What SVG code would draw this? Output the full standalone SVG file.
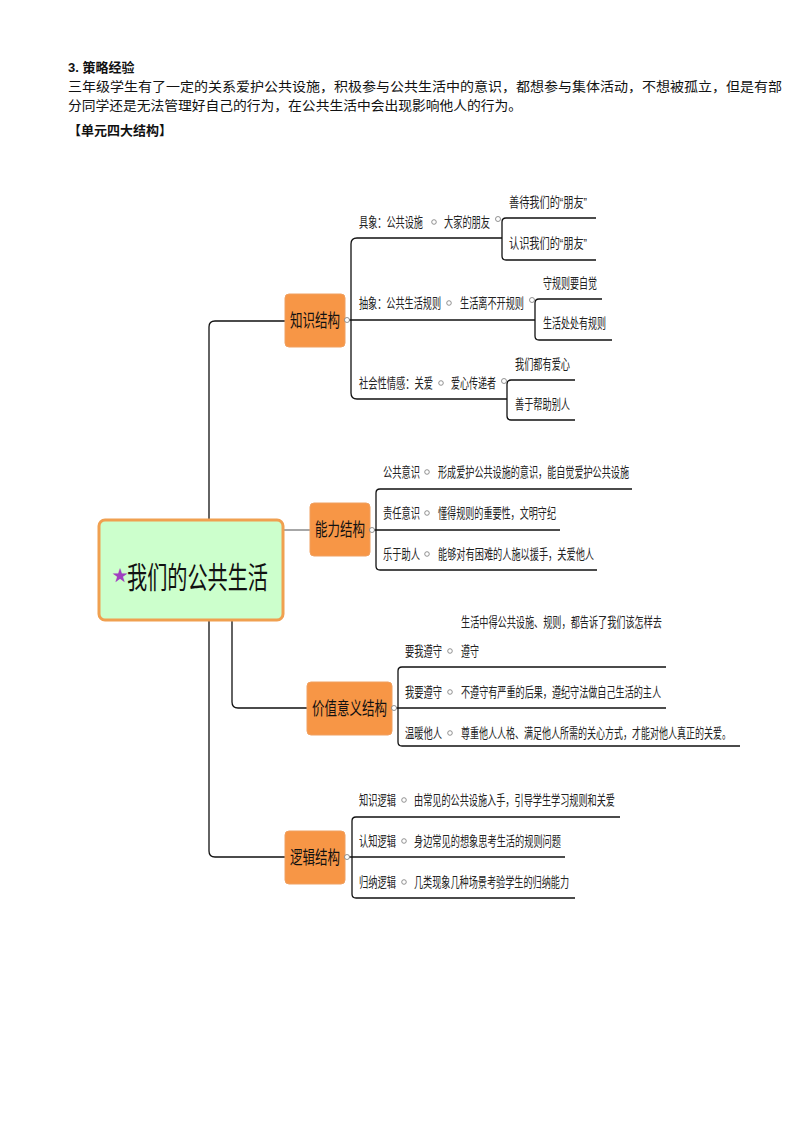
<svg xmlns="http://www.w3.org/2000/svg" width="793" height="1123" viewBox="0 0 793 1123">
<style>
text{font-family:"Liberation Sans","Noto Sans CJK SC",sans-serif;fill:#111}
.h{font-size:13px;font-weight:bold}
.p{font-size:13px}
.s{font-size:13.5px;fill:#222}
.b{font-size:18px}
.box{fill:#f79646;stroke:#f0a060;stroke-width:1}
.ln{fill:none;stroke:#111;stroke-width:1.3}
.gl{fill:none;stroke:#777;stroke-width:1.3}
.dot{fill:#fff;stroke:#777;stroke-width:0.8}
</style>
<rect width="793" height="1123" fill="#fff"/>
<text class="h" x="68" y="72">3.  策略经验</text>
<text class="p" x="68" y="91" textLength="714" lengthAdjust="spacingAndGlyphs">三年级学生有了一定的关系爱护公共设施，积极参与公共生活中的意识，都想参与集体活动，不想被孤立，但是有部</text>
<text class="p" x="68" y="110" textLength="454" lengthAdjust="spacingAndGlyphs">分同学还是无法管理好自己的行为，在公共生活中会出现影响他人的行为。</text>
<text class="h" x="68" y="135">【单元四大结构】</text>

<g id="connectors">
<path class="ln" d="M285 321 H215 Q209 321 209 327 V851 Q209 857 215 857 H285"/>
<path class="ln" d="M232 620 V702 Q232 708 238 708 H307"/>
<path class="gl" d="M283 530 H310"/>
<path class="ln" d="M502 238 H357 Q351 238 351 244 V393 Q351 399 357 399 H507"/>
<path class="ln" d="M345 320 H535"/>
<path class="ln" d="M596 218 H506 Q502 218 502 222 V256 Q502 260 506 260 H596"/>
<path class="ln" d="M602 299 H539 Q535 299 535 303 V336 Q535 340 539 340 H612"/>
<path class="ln" d="M575 380 H511 Q507 380 507 384 V416 Q507 420 511 420 H575"/>
<path class="ln" d="M632 489 H380 Q376 489 376 493 V566 Q376 570 380 570 H597"/>
<path class="ln" d="M370 530 H560"/>
<path class="ln" d="M666 667 H402 Q398 667 398 671 V742 Q398 746 402 746 H740"/>
<path class="ln" d="M392 708 H666"/>
<path class="ln" d="M620 817 H356 Q352 817 352 821 V894 Q352 898 356 898 H575"/>
<path class="ln" d="M345 857 H565"/>
</g>

<g id="center">
<rect x="99" y="520" width="184" height="100" rx="6" fill="#ccffcc" stroke="#f0a050" stroke-width="3"/>
<text x="112" y="581" style="font-size:16px;fill:#a040c0">★</text>
<text x="127" y="588" font-size="30" textLength="141" lengthAdjust="spacingAndGlyphs">我们的公共生活</text>
</g>

<g id="knowledge">
<rect class="box" x="285" y="294" width="60" height="53" rx="4"/>
<text class="b" x="290" y="327" textLength="50" lengthAdjust="spacingAndGlyphs">知识结构</text>
<circle class="dot" cx="347" cy="320" r="2.5"/>
<text class="s" x="359" y="227" textLength="64" lengthAdjust="spacingAndGlyphs">具象：公共设施</text>
<circle class="dot" cx="434" cy="222" r="2.3"/>
<text class="s" x="444" y="227" textLength="46" lengthAdjust="spacingAndGlyphs">大家的朋友</text>
<circle class="dot" cx="498" cy="219" r="2.5"/>
<text class="s" x="509" y="207" textLength="78" lengthAdjust="spacingAndGlyphs">善待我们的“朋友”</text>
<text class="s" x="509" y="248" textLength="78" lengthAdjust="spacingAndGlyphs">认识我们的“朋友”</text>
<text class="s" x="359" y="308" textLength="82" lengthAdjust="spacingAndGlyphs">抽象：公共生活规则</text>
<circle class="dot" cx="449" cy="303" r="2.3"/>
<text class="s" x="460" y="308" textLength="64" lengthAdjust="spacingAndGlyphs">生活离不开规则</text>
<circle class="dot" cx="532" cy="300" r="2.5"/>
<text class="s" x="543" y="288" textLength="54" lengthAdjust="spacingAndGlyphs">守规则要自觉</text>
<text class="s" x="543" y="328" textLength="63" lengthAdjust="spacingAndGlyphs">生活处处有规则</text>
<text class="s" x="359" y="388" textLength="74" lengthAdjust="spacingAndGlyphs">社会性情感：关爱</text>
<circle class="dot" cx="441" cy="383" r="2.3"/>
<text class="s" x="451" y="388" textLength="45" lengthAdjust="spacingAndGlyphs">爱心传递者</text>
<circle class="dot" cx="504" cy="381" r="2.5"/>
<text class="s" x="515" y="369" textLength="55" lengthAdjust="spacingAndGlyphs">我们都有爱心</text>
<text class="s" x="515" y="409" textLength="55" lengthAdjust="spacingAndGlyphs">善于帮助别人</text>
</g>

<g id="ability">
<rect class="box" x="310" y="503" width="60" height="53" rx="4"/>
<text class="b" x="315" y="536" textLength="50" lengthAdjust="spacingAndGlyphs">能力结构</text>
<circle class="dot" cx="372" cy="530" r="2.5"/>
<text class="s" x="383" y="477" textLength="37" lengthAdjust="spacingAndGlyphs">公共意识</text>
<circle class="dot" cx="427" cy="472" r="2.3"/>
<text class="s" x="438" y="477" textLength="191" lengthAdjust="spacingAndGlyphs">形成爱护公共设施的意识，能自觉爱护公共设施</text>
<text class="s" x="383" y="518" textLength="37" lengthAdjust="spacingAndGlyphs">责任意识</text>
<circle class="dot" cx="427" cy="513" r="2.3"/>
<text class="s" x="438" y="518" textLength="118" lengthAdjust="spacingAndGlyphs">懂得规则的重要性，文明守纪</text>
<text class="s" x="383" y="559" textLength="37" lengthAdjust="spacingAndGlyphs">乐于助人</text>
<circle class="dot" cx="427" cy="554" r="2.3"/>
<text class="s" x="438" y="559" textLength="156" lengthAdjust="spacingAndGlyphs">能够对有困难的人施以援手，关爱他人</text>
</g>

<g id="value">
<rect class="box" x="307" y="682" width="85" height="53" rx="4"/>
<text class="b" x="312" y="715" textLength="75" lengthAdjust="spacingAndGlyphs">价值意义结构</text>
<circle class="dot" cx="394" cy="708" r="2.5"/>
<text class="s" x="461" y="627" textLength="201" lengthAdjust="spacingAndGlyphs">生活中得公共设施、规则，都告诉了我们该怎样去</text>
<text class="s" x="405" y="656" textLength="37" lengthAdjust="spacingAndGlyphs">要我遵守</text>
<circle class="dot" cx="450" cy="651" r="2.3"/>
<text class="s" x="461" y="656" textLength="18" lengthAdjust="spacingAndGlyphs">遵守</text>
<text class="s" x="405" y="697" textLength="37" lengthAdjust="spacingAndGlyphs">我要遵守</text>
<circle class="dot" cx="450" cy="692" r="2.3"/>
<text class="s" x="461" y="697" textLength="200" lengthAdjust="spacingAndGlyphs">不遵守有严重的后果，遵纪守法做自己生活的主人</text>
<text class="s" x="405" y="738" textLength="37" lengthAdjust="spacingAndGlyphs">温暖他人</text>
<circle class="dot" cx="450" cy="733" r="2.3"/>
<text class="s" x="461" y="738" textLength="270" lengthAdjust="spacingAndGlyphs">尊重他人人格、满足他人所需的关心方式，才能对他人真正的关爱。</text>
</g>

<g id="logic">
<rect class="box" x="285" y="831" width="60" height="53" rx="4"/>
<text class="b" x="290" y="864" textLength="50" lengthAdjust="spacingAndGlyphs">逻辑结构</text>
<circle class="dot" cx="347" cy="857" r="2.5"/>
<text class="s" x="359" y="805" textLength="37" lengthAdjust="spacingAndGlyphs">知识逻辑</text>
<circle class="dot" cx="404" cy="800" r="2.3"/>
<text class="s" x="414" y="805" textLength="201" lengthAdjust="spacingAndGlyphs">由常见的公共设施入手，引导学生学习规则和关爱</text>
<text class="s" x="359" y="846" textLength="37" lengthAdjust="spacingAndGlyphs">认知逻辑</text>
<circle class="dot" cx="404" cy="841" r="2.3"/>
<text class="s" x="414" y="846" textLength="147" lengthAdjust="spacingAndGlyphs">身边常见的想象思考生活的规则问题</text>
<text class="s" x="359" y="887" textLength="37" lengthAdjust="spacingAndGlyphs">归纳逻辑</text>
<circle class="dot" cx="404" cy="882" r="2.3"/>
<text class="s" x="414" y="887" textLength="155" lengthAdjust="spacingAndGlyphs">几类现象几种场景考验学生的归纳能力</text>
</g>
</svg>
